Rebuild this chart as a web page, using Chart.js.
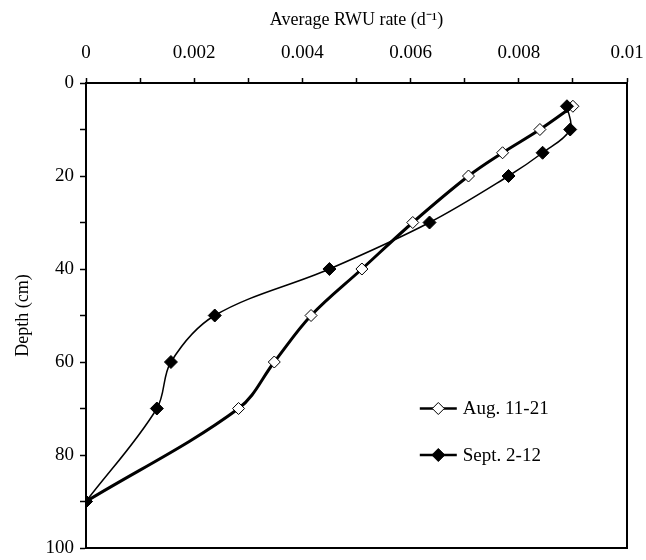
<!DOCTYPE html>
<html>
<head>
<meta charset="utf-8">
<script src="https://cdn.jsdelivr.net/npm/chart.js@4.4.1/dist/chart.umd.min.js"></script>
<style>
  html, body { margin: 0; padding: 0; background: #fff; }
  #wrap { width: 646px; height: 560px; }
</style>
</head>
<body>
<div id="wrap"><canvas id="c" width="646" height="560"></canvas></div>
<script>
// depth (cm) of each sampling layer
const depths = [5, 10, 15, 20, 30, 40, 50, 60, 70, 90];
// average RWU rate (d-1) per layer
const augRate = [0.0090, 0.00839, 0.0077, 0.00707, 0.00604, 0.0051, 0.00416, 0.00348, 0.00282, 0];
const septRate = [0.00889, 0.00895, 0.00844, 0.00781, 0.00635, 0.0045, 0.00238, 0.00157, 0.00131, 0];
const seriesNames = ['Aug. 11-21', 'Sept. 2-12'];
// labelled ticks
const xTicks = [0, 0.002, 0.004, 0.006, 0.008, 0.01];
const yTicks = [0, 20, 40, 60, 80, 100];

const FONT = '"Liberation Serif", "Times New Roman", serif';

function toPoints(rates) {
  return rates.map((r, i) => ({ x: r, y: depths[i] }));
}

// frame right + bottom side of the plot area
const frame = {
  id: 'frame',
  afterDatasetsDraw(chart) {
    const { ctx, chartArea: a } = chart;
    ctx.save();
    ctx.strokeStyle = '#000';
    ctx.lineWidth = 2;
    ctx.beginPath();
    ctx.moveTo(a.right, a.top);
    ctx.lineTo(a.right, a.bottom);
    ctx.lineTo(a.left, a.bottom);
    ctx.stroke();
    ctx.restore();
  }
};

// legend drawn inside the plot, lower right
const innerLegend = {
  id: 'innerLegend',
  afterDraw(chart) {
    const { ctx, chartArea: a } = chart;
    const w = a.right - a.left, h = a.bottom - a.top;
    const x0 = a.left + 0.617 * w;
    ctx.save();
    chart.data.datasets.forEach((ds, i) => {
      const y = a.top + (0.70 + i * 0.10) * h;
      ctx.strokeStyle = '#000';
      ctx.lineWidth = 2.5;
      ctx.beginPath();
      ctx.moveTo(x0, y);
      ctx.lineTo(x0 + 37, y);
      ctx.stroke();
      ctx.fillStyle = ds.pointBackgroundColor;
      ctx.strokeStyle = '#000';
      ctx.lineWidth = 1;
      Chart.helpers.drawPoint(ctx, { pointStyle: 'rectRot', radius: ds.pointRadius, rotation: 0, borderWidth: 1 }, x0 + 18.5, y);
      ctx.fillStyle = '#000';
      ctx.font = '19px ' + FONT;
      ctx.textBaseline = 'middle';
      ctx.textAlign = 'left';
      ctx.fillText(ds.label, x0 + 43, y + 1);
    });
    ctx.restore();
  }
};

new Chart(document.getElementById('c'), {
  type: 'scatter',
  data: {
    datasets: [
      {
        label: seriesNames[0],
        data: toPoints(augRate),
        showLine: true,
        borderColor: '#000',
        borderWidth: 3,
        tension: 0.35,
        pointStyle: 'rectRot',
        pointRadius: 6,
        pointBackgroundColor: '#fff',
        pointBorderColor: '#000',
        pointBorderWidth: 1,
        order: 1
      },
      {
        label: seriesNames[1],
        data: toPoints(septRate),
        showLine: true,
        borderColor: '#000',
        borderWidth: 1.5,
        tension: 0.35,
        pointStyle: 'rectRot',
        pointRadius: 6.5,
        pointBackgroundColor: '#000',
        pointBorderColor: '#000',
        pointBorderWidth: 1,
        order: 0
      }
    ]
  },
  options: {
    responsive: false,
    animation: false,
    layout: { padding: { left: 0, top: 0, right: 19, bottom: 12 } },
    plugins: {
      legend: { display: false },
      tooltip: { enabled: false }
    },
    scales: {
      x: {
        type: 'linear',
        position: 'top',
        min: 0,
        max: 0.01,
        afterFit(s) { s.height = 83; s.paddingLeft = 0; s.paddingRight = 0; },
        afterBuildTicks(s) {
          const t = [];
          for (let i = 0; i <= 10; i++) t.push({ value: i / 1000 });
          s.ticks = t;
        },
        ticks: {
          autoSkip: false,
          maxRotation: 0,
          color: '#000',
          padding: 14,
          font: { family: FONT, size: 19 },
          callback(v) {
            const hit = xTicks.find(t => Math.abs(t - v) < 1e-9);
            return hit === undefined ? '' : String(hit);
          }
        },
        grid: { drawOnChartArea: false, color: '#000', tickLength: 5, tickWidth: 1.5 },
        border: { display: true, color: '#000', width: 2 },
        title: {
          display: true,
          text: 'Average RWU rate (d\u207B\u00B9)',
          color: '#000',
          font: { family: FONT, size: 18 },
          padding: { top: 9, bottom: 4 }
        }
      },
      y: {
        type: 'linear',
        reverse: true,
        min: 0,
        max: 100,
        afterFit(s) { s.width = 86; s.paddingTop = 0; s.paddingBottom = 0; },
        afterBuildTicks(s) {
          const t = [];
          for (let i = 0; i <= 100; i += 10) t.push({ value: i });
          s.ticks = t;
        },
        ticks: {
          autoSkip: false,
          color: '#000',
          padding: 6,
          font: { family: FONT, size: 19 },
          callback(v) {
            return yTicks.includes(v) ? String(v) : '';
          }
        },
        grid: { drawOnChartArea: false, color: '#000', tickLength: 6, tickWidth: 1.5 },
        border: { display: true, color: '#000', width: 2 },
        title: {
          display: true,
          text: 'Depth (cm)',
          color: '#000',
          font: { family: FONT, size: 18 },
          padding: { top: 12, bottom: 0 }
        }
      }
    }
  },
  plugins: [frame, innerLegend]
});
</script>
</body>
</html>
